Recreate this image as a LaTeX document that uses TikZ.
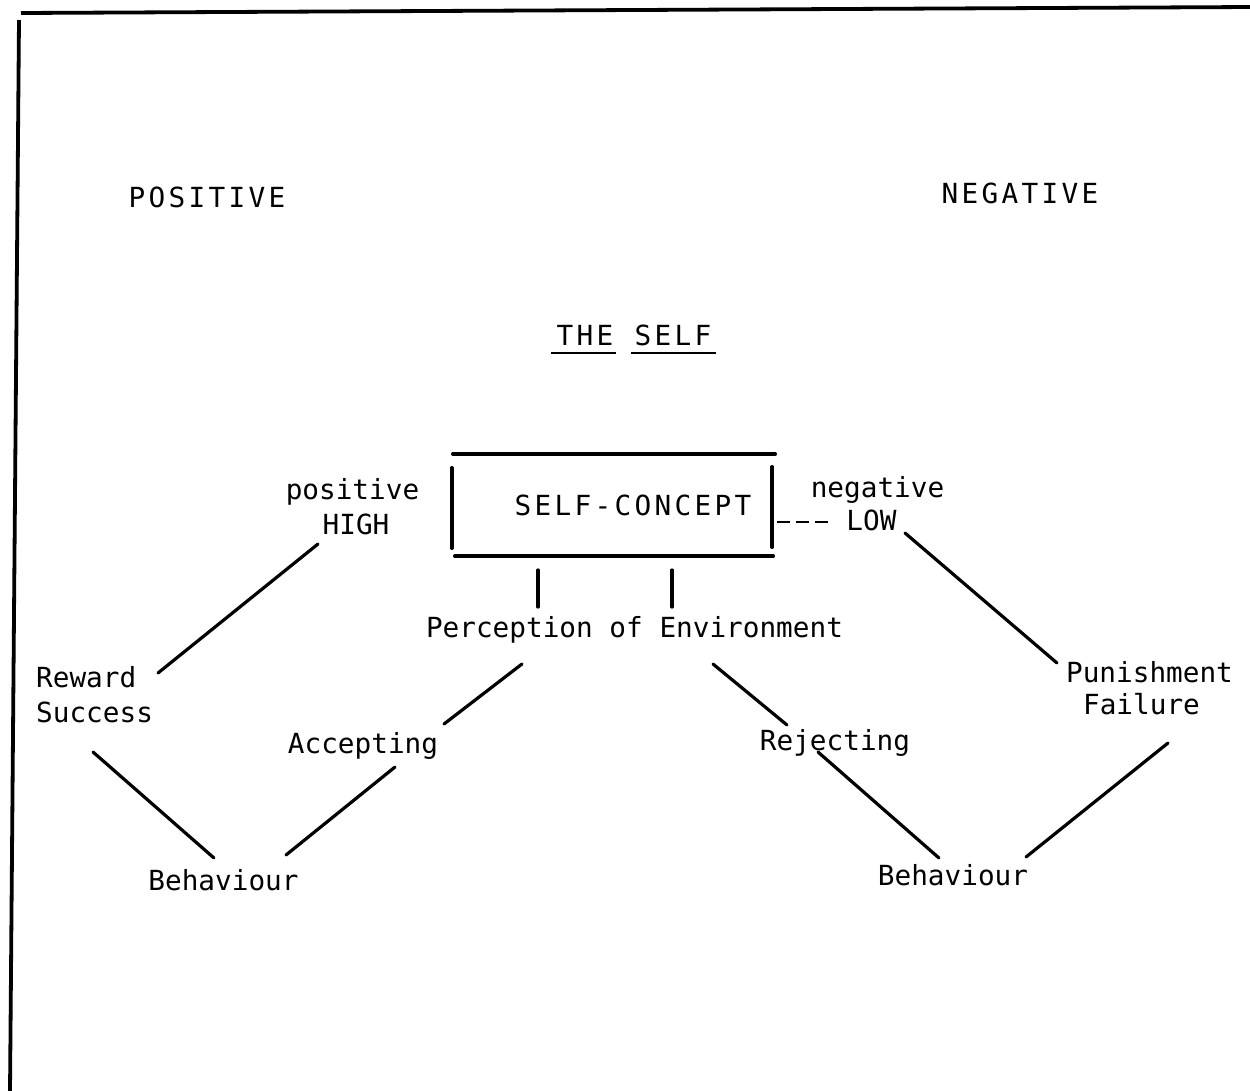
\documentclass[tikz,border=0pt]{standalone}
\usepackage{fontspec}
\newfontfamily\mono{DejaVu Sans Mono}[Scale=1]
\newfontfamily\monosp{DejaVu Sans Mono}[LetterSpace=12]
\begin{document}
\begin{tikzpicture}[x=1pt,y=-1pt,
  lbl/.style={inner sep=0pt, anchor=base, font=\fontsize{27.7}{30}\mono},
  capl/.style={inner sep=0pt, anchor=base, font=\fontsize{27.7}{30}\monosp},
  link/.style={line width=3.2pt, line cap=round},
  frame/.style={line width=3.8pt},
  boxline/.style={line width=3.6pt, line cap=round}]
\useasboundingbox (0,0) rectangle (1250,1090);
% frame (top and left edges)
\coordinate (ftl) at (21,13);
\coordinate (ftr) at (1252,7);
\coordinate (flt) at (19,20);
\coordinate (flb) at (10,1092);
\draw[frame] (ftl) -- (ftr);
\draw[frame] (flt) -- (flb);
% headings
\node[capl] (pos) at (207,207) {POSITIVE};
\node[capl] (neg) at (1020,203) {NEGATIVE};
\node[capl] (the) at (585,345) {THE};
\node[capl] (self) at (673,345) {SELF};
\draw[line width=2.8pt] ([shift={(-5,8)}]the.base west) -- ([shift={(2,8)}]the.base east);
\draw[line width=2.8pt] ([shift={(-3,8)}]self.base west) -- ([shift={(4,8)}]self.base east);
% self-concept box
\node[capl] (sc) at (633,515) {SELF-CONCEPT};
\node[inner sep=0pt, minimum width=322pt, minimum height=102pt] (box) at (614,505) {};
\draw[boxline] (box.north west) -- (box.north east);
\draw[boxline] ([xshift=2]box.south west) -- ([xshift=-2]box.south east);
\draw[boxline] ([shift={(-1,14)}]box.north west) -- ([shift={(-1,-8)}]box.south west);
\draw[boxline] ([shift={(-3,13)}]box.north east) -- ([shift={(-3,-9)}]box.south east);
% side labels
\node[lbl] (posl) at (352.5,499) {positive};
\node[lbl] (high) at (356,534) {HIGH};
\node[lbl] (negl) at (877.5,497) {negative};
\node[lbl] (low) at (871.5,530) {LOW};
\coordinate (dashA) at (777,522);
\coordinate (dashB) at (829,522);
\draw[line width=1.6pt, dash pattern=on 13pt off 6pt] (dashA) -- (dashB);
% perception
\node[lbl] (perc) at (634.5,637) {Perception of Environment};
\coordinate (t1a) at (538,570); \coordinate (t1b) at (538,607);
\coordinate (t2a) at (672,570); \coordinate (t2b) at (672,607);
\draw[link] (t1a) -- (t1b);
\draw[link] (t2a) -- (t2b);
% left side
\node[lbl, anchor=base west] (reward) at (36,687) {Reward};
\node[lbl, anchor=base west] (success) at (36,722) {Success};
\node[lbl] (acc) at (363,753) {Accepting};
\node[lbl] (behl) at (223.5,890) {Behaviour};
% right side
\node[lbl] (pun) at (1149.5,682) {Punishment};
\node[lbl] (fail) at (1141.5,714) {Failure};
\node[lbl] (rej) at (835,750) {Rejecting};
\node[lbl] (behr) at (953,885) {Behaviour};
% connector end points
\coordinate (hiA) at (318,544);  \coordinate (rwA) at (158,673);
\coordinate (suA) at (93,752);   \coordinate (blA) at (214,858);
\coordinate (acA) at (395,767);  \coordinate (blB) at (286,855);
\coordinate (peA) at (522,664);  \coordinate (acB) at (444,724);
\coordinate (peB) at (713,664);  \coordinate (rjA) at (787,725);
\coordinate (rjB) at (818,752);  \coordinate (brA) at (939,858);
\coordinate (loA) at (905,533);  \coordinate (puA) at (1057,663);
\coordinate (faA) at (1168,743); \coordinate (brB) at (1026,857);
\draw[link] (hiA) -- (rwA);
\draw[link] (suA) -- (blA);
\draw[link] (acA) -- (blB);
\draw[link] (peA) -- (acB);
\draw[link] (peB) -- (rjA);
\draw[link] (rjB) -- (brA);
\draw[link] (loA) -- (puA);
\draw[link] (faA) -- (brB);
\end{tikzpicture}
\end{document}
